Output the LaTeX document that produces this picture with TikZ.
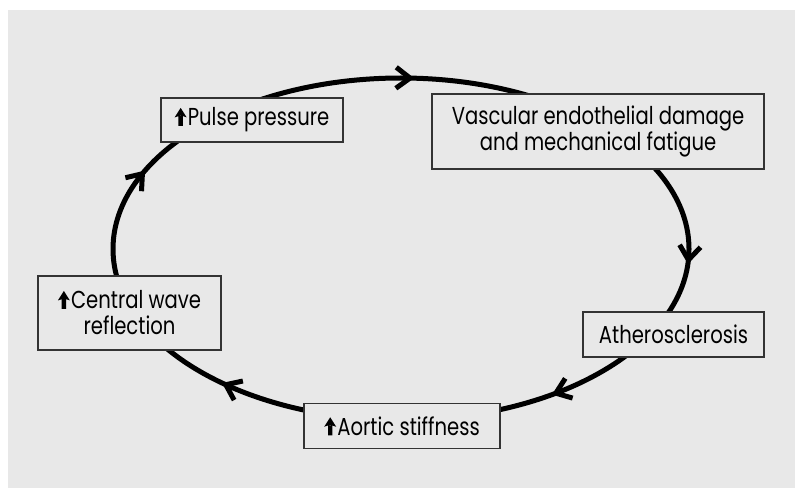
\documentclass[tikz,border=0pt]{standalone}
\usepackage{fontspec}
\setmainfont[FakeStretch=0.8]{Poppins}
\usetikzlibrary{calc}
\definecolor{bggray}{HTML}{E8E8E8}
\definecolor{boxline}{HTML}{333333}
\newcommand{\uparr}{\tikz[baseline=0pt,x=1pt,y=1pt]{\fill[black] (-2.2,0) rectangle (2.2,10) (-6,8.5) -- (0,18) -- (6,8.5) -- (0,10.5) -- cycle;}\hspace{1.2pt}}
\begin{document}
\begin{tikzpicture}[x=1pt,y=1pt,
  box/.style={draw=boxline, line width=1.2pt, fill=bggray, inner sep=0pt, align=center,
    font=\fontsize{24.5}{26}\selectfont, text=black},
  cyc/.style={line width=5pt, black},
  chev/.style={line width=5pt, black, line join=miter, line cap=butt}]
\useasboundingbox (0,0) rectangle (799,488);
\fill[bggray] (8,0) rectangle (795,478);
\coordinate (C) at (401,239);
\draw[cyc] (C) ellipse [x radius=288, y radius=171];
\foreach \t in {88,-4,-57.7,-127.7,153.6}{
  \pgfmathsetmacro\ang{atan2(-171*cos(\t), 288*sin(\t))}
  \coordinate (P) at ($(C)+(\t:288 and 171)$);
  \begin{scope}[shift={(P)}, rotate=\ang]
    \draw[chev] (-15,10.5) -- (-1,0) -- (-15,-10.5);
  \end{scope}
}
\node[box, minimum width=182pt, minimum height=44pt] (pulse) at (252,368) {\uparr Pulse pressure};
\node[box, minimum width=332pt, minimum height=75pt] (vasc) at (598,356.5) {Vascular endothelial damage\\and mechanical fatigue};
\node[box, minimum width=181pt, minimum height=45pt] (ath) at (673.5,153.5) {Atherosclerosis};
\node[box, minimum width=196pt, minimum height=45pt] (aort) at (402,62) {\uparr Aortic stiffness};
\node[box, minimum width=183pt, minimum height=74pt] (cent) at (129.5,175) {\uparr Central wave\\reflection};
\end{tikzpicture}
\end{document}
